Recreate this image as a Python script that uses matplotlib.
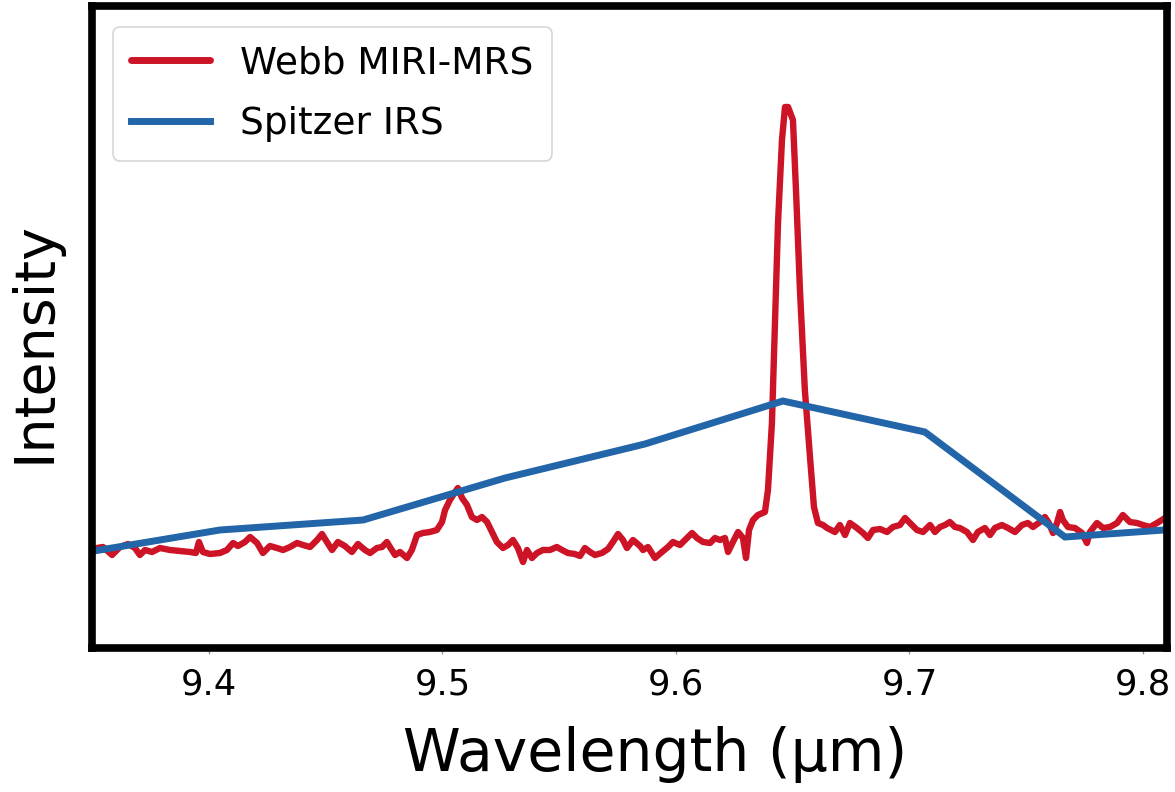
import matplotlib
matplotlib.use("Agg")
import matplotlib.pyplot as plt

# Webb MIRI-MRS spectrum (wavelength in micron, intensity in arbitrary units)
webb_wavelength = [
    9.3520, 9.3546, 9.3585, 9.3619, 9.3653, 9.3683, 9.3704, 9.3726, 9.3756, 9.3790,
    9.3833, 9.3876, 9.3919, 9.3944, 9.3957, 9.3974, 9.4004, 9.4047, 9.4077, 9.4103,
    9.4124, 9.4154, 9.4176, 9.4206, 9.4231, 9.4261, 9.4291, 9.4317, 9.4347, 9.4377,
    9.4403, 9.4433, 9.4463, 9.4484, 9.4505, 9.4527, 9.4552, 9.4582, 9.4612, 9.4638,
    9.4668, 9.4690, 9.4719, 9.4741, 9.4762, 9.4775, 9.4797, 9.4818, 9.4848, 9.4869,
    9.4891, 9.4916, 9.4946, 9.4976, 9.4998, 9.5011, 9.5032, 9.5054, 9.5066, 9.5084,
    9.5105, 9.5126, 9.5148, 9.5169, 9.5191, 9.5212, 9.5233, 9.5259, 9.5281, 9.5302,
    9.5323, 9.5345, 9.5362, 9.5383, 9.5405, 9.5430, 9.5460, 9.5490, 9.5512, 9.5537,
    9.5567, 9.5589, 9.5610, 9.5632, 9.5653, 9.5683, 9.5709, 9.5730, 9.5752, 9.5773,
    9.5790, 9.5816, 9.5846, 9.5859, 9.5880, 9.5910, 9.5940, 9.5966, 9.5987, 9.6017,
    9.6047, 9.6069, 9.6090, 9.6116, 9.6146, 9.6167, 9.6188, 9.6210, 9.6223, 9.6244,
    9.6266, 9.6287, 9.6300, 9.6313, 9.6330, 9.6351, 9.6381, 9.6394, 9.6411, 9.6424,
    9.6437, 9.6454, 9.6467, 9.6480, 9.6501, 9.6514, 9.6531, 9.6552, 9.6574, 9.6591,
    9.6608, 9.6630, 9.6647, 9.6681, 9.6702, 9.6724, 9.6745, 9.6775, 9.6801, 9.6822,
    9.6844, 9.6874, 9.6904, 9.6929, 9.6959, 9.6981, 9.7002, 9.7032, 9.7058, 9.7088,
    9.7109, 9.7131, 9.7152, 9.7173, 9.7195, 9.7216, 9.7246, 9.7272, 9.7293, 9.7323,
    9.7345, 9.7366, 9.7396, 9.7422, 9.7452, 9.7482, 9.7507, 9.7529, 9.7559, 9.7580,
    9.7597, 9.7615, 9.7632, 9.7645, 9.7657, 9.7679, 9.7709, 9.7739, 9.7760, 9.7773,
    9.7803, 9.7829, 9.7859, 9.7889, 9.7914, 9.7944, 9.7974, 9.8000, 9.8030, 9.8060,
    9.8081, 9.8094,
]
webb_intensity = [
    1.00, 1.01, 0.93, 1.01, 1.04, 1.00, 0.93, 0.98, 0.96, 1.00,
    0.98, 0.97, 0.96, 0.95, 1.06, 0.96, 0.94, 0.95, 0.98, 1.05,
    1.02, 1.06, 1.11, 1.05, 0.95, 1.02, 1.00, 0.98, 1.01, 1.05,
    1.03, 1.01, 1.08, 1.14, 1.06, 0.98, 1.06, 1.02, 0.96, 1.04,
    0.98, 0.95, 1.00, 1.01, 1.06, 1.01, 0.93, 0.96, 0.90, 0.98,
    1.13, 1.15, 1.16, 1.18, 1.26, 1.38, 1.48, 1.56, 1.60, 1.50,
    1.43, 1.31, 1.28, 1.31, 1.26, 1.16, 1.06, 1.00, 1.03, 1.08,
    1.00, 0.86, 0.98, 0.90, 0.95, 0.98, 0.98, 1.01, 0.98, 0.95,
    0.94, 0.92, 1.00, 0.96, 0.93, 0.95, 0.99, 1.06, 1.14, 1.08,
    1.00, 1.08, 1.02, 0.98, 1.01, 0.90, 0.96, 1.01, 1.06, 1.03,
    1.10, 1.15, 1.10, 1.06, 1.05, 1.10, 1.08, 1.10, 0.96, 1.06,
    1.16, 1.10, 0.90, 1.18, 1.28, 1.33, 1.36, 1.58, 2.25, 3.25,
    4.25, 5.08, 5.41, 5.41, 5.28, 4.58, 3.58, 2.58, 1.91, 1.41,
    1.25, 1.23, 1.20, 1.16, 1.23, 1.13, 1.25, 1.20, 1.15, 1.10,
    1.18, 1.19, 1.16, 1.21, 1.23, 1.30, 1.25, 1.18, 1.16, 1.23,
    1.16, 1.21, 1.23, 1.26, 1.21, 1.20, 1.16, 1.08, 1.16, 1.20,
    1.13, 1.20, 1.23, 1.20, 1.16, 1.23, 1.25, 1.21, 1.26, 1.31,
    1.25, 1.15, 1.25, 1.36, 1.28, 1.21, 1.20, 1.15, 1.05, 1.16,
    1.25, 1.20, 1.21, 1.25, 1.33, 1.26, 1.25, 1.23, 1.21, 1.25,
    1.28, 1.30,
]

# Spitzer IRS spectrum (coarse sampling)
spitzer_wavelength = [9.3430, 9.4047, 9.4660, 9.5268, 9.5867, 9.6458, 9.7066, 9.7666, 9.8274]
spitzer_intensity = [0.94, 1.18, 1.28, 1.70, 2.04, 2.47, 2.16, 1.11, 1.21]

x_ticks = [9.4, 9.5, 9.6, 9.7, 9.8]
x_tick_labels = ["9.4", "9.5", "9.6", "9.7", "9.8"]

RED = "#cc1426"
BLUE = "#2265a8"

fig = plt.figure(figsize=(11.75, 7.92), dpi=100)
ax = fig.add_axes([92 / 1175, 1 - 648 / 792, (1167 - 92) / 1175, (648 - 6) / 792])

ax.plot(webb_wavelength, webb_intensity, color=RED, lw=4.6, label="Webb MIRI-MRS",
        solid_joinstyle="round", solid_capstyle="round")
ax.plot(spitzer_wavelength, spitzer_intensity, color=BLUE, lw=5.0, label="Spitzer IRS",
        solid_joinstyle="miter")

ax.set_xlim(9.3499, 9.8103)
ax.set_ylim(0, 6.42)
ax.set_xticks(x_ticks)
ax.set_xticklabels(x_tick_labels)
ax.set_yticks([])
ax.tick_params(axis="x", labelsize=25.5, length=4, width=1, color="#999999", pad=10)

for s in ax.spines.values():
    s.set_linewidth(5.5)
    s.set_color("black")

ax.set_xlabel("Wavelength (μm)", fontsize=42)
ax.xaxis.set_label_coords(0.524, -0.122)
ax.set_ylabel("Intensity", fontsize=40)
ax.yaxis.set_label_coords(-0.028, 0.477)

leg = ax.legend(loc="upper left", fontsize=27, frameon=True, fancybox=True,
                borderaxespad=0.55, handlelength=2.1, labelspacing=0.65, borderpad=0.5)
leg.get_frame().set_edgecolor("#cccccc")
leg.get_frame().set_linewidth(1.2)
for line in leg.get_lines():
    line.set_linewidth(5)

fig.savefig("out.png", dpi=100)
